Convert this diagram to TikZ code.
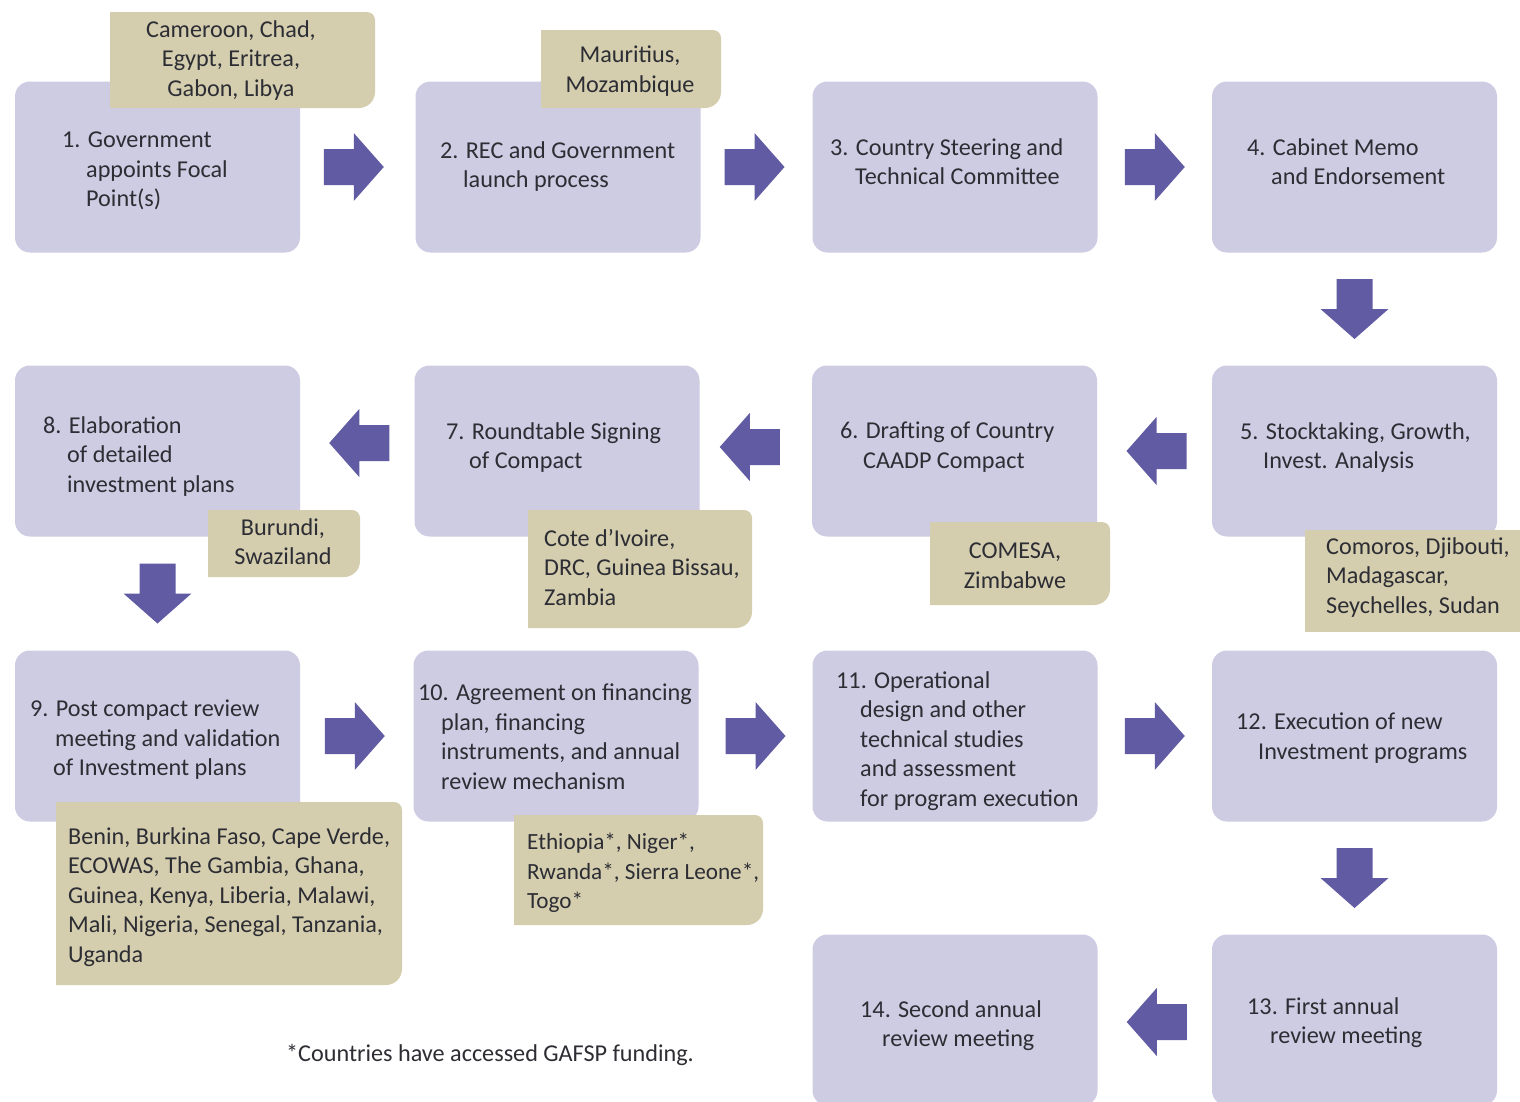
\documentclass[tikz,border=0pt]{standalone}
\usepackage{fontspec}
\setmainfont{Carlito}
\usetikzlibrary{calc}
\definecolor{lav}{RGB}{206,204,227}
\definecolor{tanc}{RGB}{212,206,175}
\definecolor{arrowc}{RGB}{96,91,163}
\definecolor{txt}{RGB}{45,45,52}
\newcommand\tanbg[4]{\fill[tanc] (#1,#2) -- ({#3-8},#2) arc (90:0:8) -- (#3,{#4+16}) arc (0:-90:16) -- (#1,#4) -- cycle;}
\newcommand\ind[1]{\hspace*{#1pt}}
\begin{document}
\begin{tikzpicture}[x=1pt,y=1pt,
  stepbox/.style={fill=lav, rounded corners=15pt, minimum width=285pt, minimum height=171pt, inner sep=0pt},
  boxtext/.style={anchor=north west, align=left, inner sep=0pt, text=txt, font=\fontsize{24.2}{29.5}\selectfont},
  tantext/.style={inner sep=0pt, text=txt, font=\fontsize{24.2}{29.5}\selectfont},
  blockarrow/.pic={\fill[arrowc] (-30,-18) -- (0,-18) -- (0,-34) -- (30,0) -- (0,34) -- (0,18) -- (-30,18) -- cycle;}
]
\useasboundingbox (0,0) rectangle (1520,-1101);
\clip (0,0) rectangle (1520,-1101);
\fill[white] (0,0) rectangle (1520,-1101);

% step boxes
\node[stepbox] (b1) at (157.5,-167) {};
\node[stepbox] (b2) at (558,-167) {};
\node[stepbox] (b3) at (955,-167) {};
\node[stepbox] (b4) at (1354.5,-167) {};
\node[stepbox] (b8) at (157.5,-451) {};
\node[stepbox] (b7) at (557,-451) {};
\node[stepbox] (b6) at (954.5,-451) {};
\node[stepbox] (b5) at (1354.5,-451) {};
\node[stepbox] (b9) at (157.5,-736) {};
\node[stepbox] (b10) at (556,-736) {};
\node[stepbox] (b11) at (955,-736) {};
\node[stepbox] (b12) at (1354.5,-736) {};
\node[stepbox] (b14) at (955,-1020) {};
\node[stepbox] (b13) at (1354.5,-1020) {};

% step texts
\node[boxtext] (t1) at (62,-132) {1. Government\\\ind{24}appoints Focal\\\ind{24}Point(s)};
\node[boxtext] (t2) at (440,-141) {2. REC and Government\\\ind{23}launch process};
\node[boxtext] (t3) at (830,-138) {3. Country Steering and\\\ind{25}Technical Committee};
\node[boxtext] (t4) at (1247,-138) {4. Cabinet Memo\\\ind{24}and Endorsement};
\node[boxtext] (t5) at (1240,-422) {5. Stocktaking, Growth,\\\ind{23}Invest. Analysis};
\node[boxtext] (t6) at (840,-422) {6. Drafting of Country\\\ind{23}CAADP Compact};
\node[boxtext] (t7) at (446,-422) {7. Roundtable Signing\\\ind{23}of Compact};
\node[boxtext] (t8) at (43,-416) {8. Elaboration\\\ind{24}of detailed\\\ind{24}investment plans};
\node[boxtext] (t9) at (30,-700) {9. Post compact review\\\ind{25}meeting and validation\\\ind{23}of Investment plans};
\node[boxtext] (t10) at (418,-684) {10. Agreement on financing\\\ind{23}plan, financing\\\ind{23}instruments, and annual\\\ind{23}review mechanism};
\node[boxtext] (t11) at (836,-671) {11. Operational\\\ind{24}design and other\\\ind{24}technical studies\\\ind{24}and assessment\\\ind{24}for program execution};
\node[boxtext] (t12) at (1236,-713) {12. Execution of new\\\ind{22}Investment programs};
\node[boxtext] (t13) at (1247,-997) {13. First annual\\\ind{23}review meeting};
\node[boxtext] (t14) at (860,-1000) {14. Second annual\\\ind{22}review meeting};

% country boxes
\tanbg{110}{-12}{375}{-108}
\node[tantext, align=center, anchor=north] (c1) at (231,-20) {Cameroon, Chad,\\Egypt, Eritrea,\\Gabon, Libya};
\tanbg{541}{-30}{721}{-108}
\node[tantext, align=center, anchor=north] (c2) at (630,-46) {Mauritius,\\Mozambique};
\fill[tanc] (1305,-530) rectangle (1520,-632);
\node[tantext, align=left, anchor=north west] (c5) at (1326,-537) {Comoros, Djibouti,\\Madagascar,\\Seychelles, Sudan};
\tanbg{930}{-522}{1110}{-605}
\node[tantext, align=center, anchor=north] (c6) at (1015,-543) {COMESA,\\Zimbabwe};
\tanbg{528}{-510}{752}{-628}
\node[tantext, align=left, anchor=north west] (c7) at (544,-529) {Cote d’Ivoire,\\DRC, Guinea Bissau,\\Zambia};
\tanbg{208}{-510}{360}{-577}
\node[tantext, align=center, anchor=north] (c8) at (283,-518) {Burundi,\\Swaziland};
\tanbg{56}{-802}{402}{-985}
\node[tantext, align=left, anchor=north west] (c9) at (68,-827) {Benin, Burkina Faso, Cape Verde,\\ECOWAS, The Gambia, Ghana,\\Guinea, Kenya, Liberia, Malawi,\\Mali, Nigeria, Senegal, Tanzania,\\Uganda};
\tanbg{514}{-815}{763}{-925}
\node[tantext, align=left, anchor=north west, font=\fontsize{23.2}{29.5}\selectfont] (c10) at (527,-833) {Ethiopia*, Niger*,\\Rwanda*, Sierra Leone*,\\Togo*};

% arrows
\pic at ($(b1.east)!0.5!(b2.west)+(-4,0)$) {blockarrow};
\pic at ($(b2.east)!0.5!(b3.west)+(-2,0)$) {blockarrow};
\pic at ($(b3.east)!0.5!(b4.west)$) {blockarrow};
\pic[rotate=-90] at ($(b4.south)!0.5!(b5.north)$) {blockarrow};
\pic[rotate=180] at ($(b5.west)!0.5!(b6.east)+(2,0)$) {blockarrow};
\pic[rotate=180] at ($(b6.west)!0.5!(b7.east)+(-6,4)$) {blockarrow};
\pic[rotate=180] at ($(b7.west)!0.5!(b8.east)+(2,8)$) {blockarrow};
\pic[rotate=-90] at ($(b8.south)!0.5!(b9.north)$) {blockarrow};
\pic at ($(b9.east)!0.5!(b10.west)+(-2,0)$) {blockarrow};
\pic at ($(b10.east)!0.5!(b11.west)$) {blockarrow};
\pic at ($(b11.east)!0.5!(b12.west)$) {blockarrow};
\pic[rotate=-90] at ($(b12.south)!0.5!(b13.north)$) {blockarrow};
\pic[rotate=180] at ($(b13.west)!0.5!(b14.east)+(2,-2)$) {blockarrow};

% footnote
\node[tantext] (fn) at (490,-1055) {*Countries have accessed GAFSP funding.};
\end{tikzpicture}
\end{document}
